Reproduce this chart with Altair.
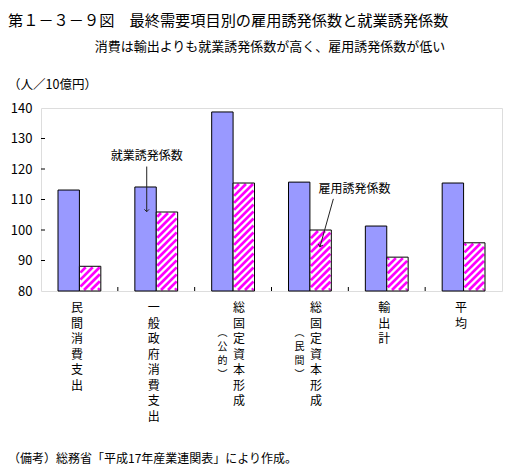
import altair as alt
import pandas as pd
import numpy as np

FONT = "Noto Sans CJK JP"

TITLE = "第１－３－９図　最終需要項目別の雇用誘発係数と就業誘発係数"
SUBTITLE = "消費は輸出よりも就業誘発係数が高く、雇用誘発係数が低い"
UNIT = "（人／10億円）"
NOTE = "（備考）総務省「平成17年産業連関表」により作成。"

categories = ["民間消費支出", "一般政府消費支出", "総固定資本形成（公的）",
              "総固定資本形成（民間）", "輸出計", "平均"]
shugyo = [113.1, 114.1, 138.7, 115.7, 101.3, 115.4]   # 就業誘発係数 (blue)
koyo = [88.1, 105.9, 115.4, 100.0, 91.1, 95.8]        # 雇用誘発係数 (hatched)
y_ticks = [80, 90, 100, 110, 120, 130, 140]

ann_text = ["就業誘発係数", "雇用誘発係数"]
ann_tx = [1.376, 4.08]
ann_ty = [124.4, 113.4]
ann_x1 = [1.376, 3.805]
ann_y1 = [120.8, 110.2]
ann_x2 = [1.376, 3.631]
ann_y2 = [106.0, 94.5]
ann_angle = [0, 15.6]

# layout constants
W, H = 461, 183
N = len(categories)
SX = W / N
SY = H / (y_ticks[-1] - y_ticks[0])
BW = 0.2786
P = 7.0  # hatch period (px)

ymin = y_ticks[0]

bars_blue = pd.DataFrame({
    "cat": categories,
    "x0": [i + 0.5 - BW for i in range(N)],
    "x1": [i + 0.5 for i in range(N)],
    "v": shugyo,
})
bars_pink = pd.DataFrame({
    "cat": categories,
    "x0": [i + 0.5 for i in range(N)],
    "x1": [i + 0.5 + BW for i in range(N)],
    "v": koyo,
})

# hatch segments computed from the koyo values
segs = []
for i, v in enumerate(koyo):
    pa = (i + 0.5) * SX + 1.0
    pb = (i + 0.5 + BW) * SX - 1.0
    ph = (v - ymin) * SY - 1.0
    c = np.floor((pa - ph) / P) * P
    while c <= pb:
        px1 = max(pa, c + 1.0)
        px2 = min(pb, c + ph)
        if px2 > px1:
            segs.append({"x": px1 / SX, "y": ymin + (px1 - c) / SY,
                         "x2": px2 / SX, "y2": ymin + (px2 - c) / SY})
        c += P
hatch = pd.DataFrame(segs)

xscale = alt.Scale(domain=[0, N], nice=False, zero=False)
yscale = alt.Scale(domain=[y_ticks[0], y_ticks[-1]], nice=False, zero=False)
yaxis = alt.Axis(values=y_ticks, title=None, ticks=False, domain=False, grid=False,
                 labelFont=FONT, labelFontSize=13, labelPadding=9, labelColor="black",
                 labelFlush=False, labelOverlap=False)

def X(f):
    return alt.X(f, type="quantitative", scale=xscale, axis=None)

def Y(f):
    return alt.Y(f, type="quantitative", scale=yscale, axis=yaxis)

blue = alt.Chart(bars_blue).mark_bar(fill="#9999FF", stroke="black", strokeWidth=1).encode(
    x=X("x0"), x2="x1", y=Y("v"), y2=alt.datum(ymin))
pink_bg = alt.Chart(bars_pink).mark_bar(fill="white", strokeWidth=0).encode(
    x=X("x0"), x2="x1", y=Y("v"), y2=alt.datum(ymin))
stripes = alt.Chart(hatch).mark_rule(color="#FF00FF", strokeWidth=2.7, strokeCap="butt").encode(
    x=X("x"), x2="x2", y=Y("y"), y2="y2")
pink_ol = alt.Chart(bars_pink).mark_bar(fill="white", fillOpacity=0, stroke="black", strokeWidth=1).encode(
    x=X("x0"), x2="x1", y=Y("v"), y2=alt.datum(ymin))

ytick_df = pd.DataFrame({"t": y_ticks[1:-1]})
yticks = alt.Chart(ytick_df).mark_rule(color="black", strokeWidth=1).encode(
    y=Y("t"), x=alt.value(0), x2=alt.value(4))
xtick_df = pd.DataFrame({"b": list(range(1, N))})
xticks = alt.Chart(xtick_df).mark_rule(color="black", strokeWidth=1).encode(
    x=X("b"), y=alt.value(H), y2=alt.value(H - 4))

# category labels (vertical writing)
rows = []
for i, c in enumerate(categories):
    if "（" in c:
        main, rest = c.split("（", 1)
        paren = rest.rstrip("）")
        rows.append({"x": i + 0.5, "kind": "main2", "t": "\n".join(main)})
        rows.append({"x": i + 0.5, "kind": "paren", "t": "\n".join("︵" + paren + "︶")})
    else:
        rows.append({"x": i + 0.5, "kind": "plain", "t": "\n".join(c)})
lab = pd.DataFrame(rows)

def lab_layer(kind, dx, y, lh, size):
    return alt.Chart(lab).transform_filter(alt.datum.kind == kind).mark_text(
        font=FONT, fontSize=size, lineBreak="\n", lineHeight=lh, baseline="top",
        align="center", dx=dx, color="black").encode(x=X("x"), y=alt.value(y), text="t:N")

labels = [lab_layer("plain", -2.5, 195, 15.5, 12),
          lab_layer("main2", 6, 195, 15.5, 12),
          lab_layer("paren", -10.5, 220, 14, 10)]

ann = pd.DataFrame({"t": ann_text, "tx": ann_tx, "ty": ann_ty, "x1": ann_x1, "y1": ann_y1,
                    "x2": ann_x2, "y2": ann_y2, "ang": ann_angle})
ann_t = alt.Chart(ann).mark_text(font=FONT, fontSize=12, color="black", baseline="middle").encode(
    x=X("tx"), y=Y("ty"), text="t:N")
ann_l = alt.Chart(ann).mark_rule(color="#222222", strokeWidth=1).encode(
    x=X("x1"), x2="x2", y=Y("y1"), y2="y2")
ann_h = alt.Chart(ann).mark_point(shape="M-1,-1L0,0L1,-1", filled=False, stroke="#222222",
                                  strokeWidth=1, size=22, opacity=1).encode(
    x=X("x2"), y=Y("y2"), angle=alt.Angle("ang:Q", scale=None))

def txt(s, x, y, size, align="left"):
    return alt.Chart(pd.DataFrame({"t": [s]})).mark_text(
        font=FONT, fontSize=size, align=align, baseline="middle", color="black").encode(
        text="t:N", x=alt.value(x), y=alt.value(y))

texts = [txt(TITLE, -33, -87.5, 15.2), txt(SUBTITLE, 229, -61, 13, "center"),
         txt(UNIT, -33, -23, 12.5), txt(NOTE, -33, 350.5, 12)]

chart = alt.layer(blue, pink_bg, stripes, pink_ol, yticks, xticks, *labels,
                  ann_l, ann_h, ann_t, *texts).properties(
    width=W, height=H,
    padding={"left": 33, "top": 100, "right": 1, "bottom": 175},
    autosize=alt.AutoSizeParams(type="none"),
).configure_view(stroke="black", strokeWidth=2).configure(background="white")

chart.save("out.html", embed_options={"renderer": "svg", "actions": False})
